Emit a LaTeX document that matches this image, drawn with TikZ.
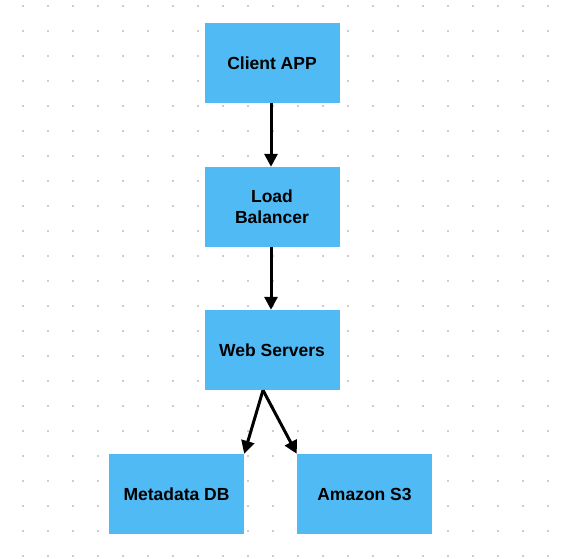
\documentclass[tikz,border=0pt]{standalone}
\usepackage{fontspec}
\setmainfont{Liberation Sans}
\usetikzlibrary{arrows.meta}
\definecolor{boxblue}{RGB}{80,186,245}
\definecolor{dotgray}{RGB}{205,205,205}
\begin{document}
\begin{tikzpicture}[x=1pt,y=-1pt,
  box/.style={fill=boxblue, draw=none, minimum width=135pt, minimum height=80pt, inner sep=0pt,
    align=center, font=\fontsize{17.5}{21}\selectfont\bfseries, text=black},
  conn/.style={line width=3pt, -{Triangle[width=13pt,length=13pt]}}]
\useasboundingbox (0,0) rectangle (570,558);
\fill[white] (0,0) rectangle (570,558);
\foreach \i in {0,...,21}{
  \foreach \j in {0,...,22}{
    \fill[dotgray] (23+25*\i-1.2,6+25*\j-1.2) rectangle ++(2.4,2.4);
  }
}
\node[box] (client) at (272,63) {Client APP};
\node[box] (lb) at (272,207) {Load\\Balancer};
\node[box] (ws) at (272,350) {Web Servers};
\node[box] (md) at (176.5,494) {Metadata DB};
\node[box] (s3) at (364.5,494) {Amazon S3};
\coordinate (wsout) at ([xshift=-9pt]ws.south);
\draw[conn] ([xshift=-1pt]client.south) -- ([xshift=-1pt]lb.north);
\draw[conn] ([xshift=-1pt]lb.south) -- ([xshift=-1pt]ws.north);
\draw[conn] (wsout) -- (md.north east);
\draw[conn] (wsout) -- (s3.north west);
\end{tikzpicture}
\end{document}
